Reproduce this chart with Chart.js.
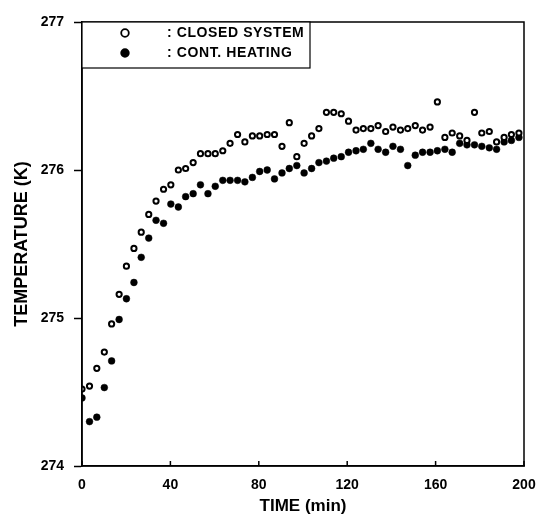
<!DOCTYPE html>
<html>
<head>
<meta charset="utf-8">
<script src="https://cdn.jsdelivr.net/npm/chart.js@4/dist/chart.umd.min.js"></script>
<style>
  html, body { margin: 0; padding: 0; background: #fff; }
  #wrap { width: 541px; height: 518px; }
</style>
</head>
<body>
<div id="wrap"><canvas id="tempChart" width="541" height="518"></canvas></div>
<script>
// time (min) of each reading
const times = [0.0, 3.4, 6.7, 10.1, 13.4, 16.8, 20.1, 23.5, 26.8, 30.2,
  33.5, 36.9, 40.2, 43.6, 46.9, 50.3, 53.6, 57.0, 60.3, 63.7,
  67.0, 70.4, 73.7, 77.1, 80.4, 83.8, 87.1, 90.5, 93.8, 97.2,
  100.5, 103.9, 107.2, 110.6, 113.9, 117.3, 120.6, 124.0, 127.3, 130.7,
  134.0, 137.4, 140.7, 144.1, 147.4, 150.8, 154.1, 157.5, 160.8, 164.2,
  167.5, 170.9, 174.2, 177.6, 180.9, 184.3, 187.6, 191.0, 194.3, 197.7];

const closedSystem = [274.52, 274.54, 274.66, 274.77, 274.96, 275.16, 275.35, 275.47, 275.58, 275.70,
  275.79, 275.87, 275.90, 276.00, 276.01, 276.05, 276.11, 276.11, 276.11, 276.13,
  276.18, 276.24, 276.19, 276.23, 276.23, 276.24, 276.24, 276.16, 276.32, 276.09,
  276.18, 276.23, 276.28, 276.39, 276.39, 276.38, 276.33, 276.27, 276.28, 276.28,
  276.30, 276.26, 276.29, 276.27, 276.28, 276.30, 276.27, 276.29, 276.46, 276.22,
  276.25, 276.23, 276.20, 276.39, 276.25, 276.26, 276.19, 276.22, 276.24, 276.25];

const contHeating = [274.46, 274.30, 274.33, 274.53, 274.71, 274.99, 275.13, 275.24, 275.41, 275.54,
  275.66, 275.64, 275.77, 275.75, 275.82, 275.84, 275.90, 275.84, 275.89, 275.93,
  275.93, 275.93, 275.92, 275.95, 275.99, 276.00, 275.94, 275.98, 276.01, 276.03,
  275.98, 276.01, 276.05, 276.06, 276.08, 276.09, 276.12, 276.13, 276.14, 276.18,
  276.14, 276.12, 276.16, 276.14, 276.03, 276.10, 276.12, 276.12, 276.13, 276.14,
  276.12, 276.18, 276.17, 276.17, 276.16, 276.15, 276.14, 276.19, 276.20, 276.22];

const seriesLabels = [': CLOSED SYSTEM', ': CONT. HEATING'];
const xTicks = [0, 40, 80, 120, 160, 200];
const yTicks = [274, 275, 276, 277];

const FONT = '"Liberation Sans", Arial, sans-serif';

function toPoints(ys) {
    return times.map((t, i) => ({ x: t, y: ys[i] }));
}

// frame, inward x ticks and the legend box
const framePlugin = {
    id: 'frame',
    afterDraw(chart) {
        const { ctx, chartArea: a, scales } = chart;
        ctx.save();
        ctx.strokeStyle = '#000';
        ctx.lineWidth = 1.5;
        ctx.strokeRect(a.left, a.top, a.right - a.left, a.bottom - a.top);

        xTicks.forEach(v => {
            const px = scales.x.getPixelForValue(v);
            ctx.beginPath();
            ctx.moveTo(px, a.bottom);
            ctx.lineTo(px, a.bottom - 5);
            ctx.stroke();
        });

        // legend
        const lx = a.left, ly = a.top, lw = 228, lh = 46;
        ctx.fillStyle = '#fff';
        ctx.fillRect(lx, ly, lw, lh);
        ctx.lineWidth = 1.2;
        ctx.strokeRect(lx, ly, lw, lh);
        ctx.font = 'bold 14px ' + FONT;
        ctx.letterSpacing = '0.6px';
        ctx.textBaseline = 'middle';
        ctx.textAlign = 'left';
        chart.data.datasets.forEach((ds, i) => {
            const cy = ly + 11 + i * 20;
            ctx.beginPath();
            ctx.arc(lx + 43, cy, 3.8, 0, Math.PI * 2);
            ctx.fillStyle = ds.backgroundColor;
            ctx.fill();
            ctx.lineWidth = 1.8;
            ctx.strokeStyle = '#000';
            ctx.stroke();
            ctx.fillStyle = '#000';
            ctx.fillText(ds.label, lx + 85, cy);
        });
        ctx.restore();
    }
};

const ctx = document.getElementById('tempChart').getContext('2d');
new Chart(ctx, {
    type: 'scatter',
    data: {
        datasets: [{
            label: seriesLabels[0],
            data: toPoints(closedSystem),
            pointRadius: 2.6,
            pointBorderWidth: 2,
            borderColor: '#000',
            backgroundColor: '#fff',
            pointBackgroundColor: '#fff',
            pointBorderColor: '#000'
        }, {
            label: seriesLabels[1],
            data: toPoints(contHeating),
            pointRadius: 3.4,
            pointBorderWidth: 0.5,
            borderColor: '#000',
            backgroundColor: '#000',
            pointBackgroundColor: '#000',
            pointBorderColor: '#000'
        }]
    },
    options: {
        responsive: false,
        animation: false,
        layout: { padding: { top: 22, right: 17, left: 0, bottom: 0 } },
        plugins: {
            legend: { display: false },
            tooltip: { enabled: false }
        },
        scales: {
            x: {
                type: 'linear',
                min: 0,
                max: 200,
                afterBuildTicks: s => { s.ticks = xTicks.map(v => ({ value: v })); },
                afterFit: s => { s.height = 52; s.paddingLeft = 0; s.paddingRight = 0; },
                grid: { display: true, drawOnChartArea: false, drawTicks: false },
                border: { display: true, color: '#000', width: 1.5 },
                ticks: {
                    padding: 11,
                    color: '#000',
                    font: { family: FONT, size: 14, weight: 'bold' },
                    maxRotation: 0
                },
                title: {
                    display: true,
                    text: 'TIME (min)',
                    color: '#000',
                    font: { family: FONT, size: 17, weight: 'bold' },
                    padding: { top: 0, bottom: 1 }
                }
            },
            y: {
                type: 'linear',
                min: 274,
                max: 277,
                afterBuildTicks: s => { s.ticks = yTicks.map(v => ({ value: v })); },
                afterFit: s => { s.width = 82; s.paddingTop = 0; s.paddingBottom = 0; },
                grid: { display: true, drawOnChartArea: false, drawTicks: true, tickLength: 8, color: '#000', tickWidth: 1.5 },
                border: { display: true, color: '#000', width: 1.5 },
                ticks: {
                    padding: 10,
                    color: '#000',
                    font: { family: FONT, size: 14, weight: 'bold' }
                },
                title: {
                    display: true,
                    text: 'TEMPERATURE (K)',
                    color: '#000',
                    font: { family: FONT, size: 18, weight: 'bold' },
                    padding: { top: 11, bottom: 0 }
                }
            }
        }
    },
    plugins: [framePlugin]
});
</script>
</body>
</html>
